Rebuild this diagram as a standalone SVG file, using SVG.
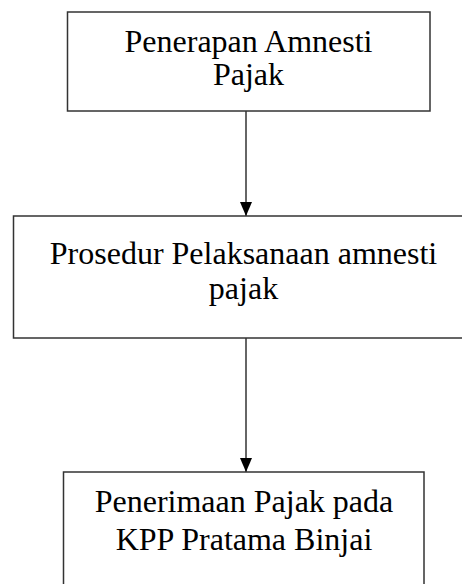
<svg xmlns="http://www.w3.org/2000/svg" width="462" height="584" viewBox="0 0 462 584">
  <style>
    .box { fill: #ffffff; stroke: #333333; stroke-width: 1.5; }
    .lbl { font-family: "Liberation Serif", "Times New Roman", serif; font-size: 32px; fill: #000000; text-anchor: middle; }
    .conn { stroke: #333333; stroke-width: 1.5; fill: none; }
  </style>
  <defs>
    <marker id="arrow" viewBox="0 0 14 12" refX="14" refY="6" markerWidth="14" markerHeight="12" markerUnits="userSpaceOnUse" orient="auto">
      <path d="M0,0 L14,6 L0,12 Z" fill="#000000"/>
    </marker>
  </defs>
  <rect width="462" height="584" fill="#ffffff"/>
  <g id="connectors">
    <line class="conn" x1="246" y1="111" x2="246" y2="216" marker-end="url(#arrow)"/>
    <line class="conn" x1="246" y1="338" x2="246" y2="472" marker-end="url(#arrow)"/>
  </g>
  <g id="node-penerapan">
    <rect class="box" x="67.5" y="12" width="362.5" height="99"/>
    <text class="lbl" x="248.5" y="52">Penerapan Amnesti</text>
    <text class="lbl" x="248.5" y="85">Pajak</text>
  </g>
  <g id="node-prosedur">
    <rect class="box" x="13.5" y="216" width="460" height="122"/>
    <text class="lbl" x="243.5" y="264">Prosedur Pelaksanaan amnesti</text>
    <text class="lbl" x="243.5" y="299">pajak</text>
  </g>
  <g id="node-penerimaan">
    <rect class="box" x="63.5" y="472" width="360.5" height="130"/>
    <text class="lbl" x="244" y="512">Penerimaan Pajak pada</text>
    <text class="lbl" x="244" y="550">KPP Pratama Binjai</text>
  </g>
</svg>
